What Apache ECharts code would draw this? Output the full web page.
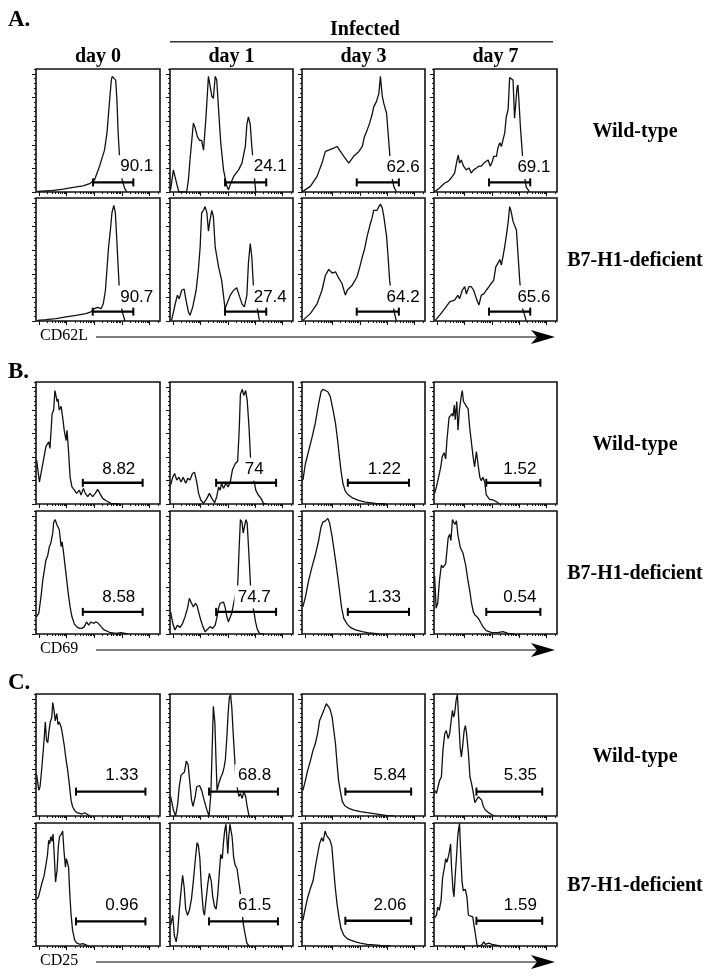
<!DOCTYPE html>
<html><head><meta charset="utf-8">
<script src="https://cdn.jsdelivr.net/npm/echarts@6/dist/echarts.min.js"></script>
<style>html,body{margin:0;padding:0;background:#fff}#c{width:714px;height:979px}</style>
</head><body><div id="c"></div>
<script>
// ---------- labels ----------
const dayLabels = ['day 0', 'day 1', 'day 3', 'day 7'];
const groupLabel = 'Infected';
const genotypeLabels = ['Wild-type', 'B7-H1-deficient'];
const sectionLetters = ['A.', 'B.', 'C.'];
const markerLabels = ['CD62L', 'CD69', 'CD25'];

// x in log-decade units (0..4), y in % of panel height
// ---------- A. CD62L ----------
const A_WT_d0 = [[0.04,0.5],[0.45,1],[0.88,2.4],[1.2,3.8],[1.52,5],[1.73,6.8],[1.89,10],[2.05,21],[2.21,34],[2.29,48],[2.34,64],[2.40,65],[2.43,91],[2.46,94],[2.51,93],[2.57,91],[2.61,75],[2.65,48],[2.70,26],[2.78,10],[2.86,3],[2.93,0]];
const A_WT_d1 = [[0.02,1.9],[0.11,18],[0.16,19.5],[0.24,4.6],[0.29,0],[0.54,0],[0.60,10],[0.65,26],[0.76,56],[0.82,52],[0.89,45],[0.96,42],[1.03,42],[1.09,34],[1.17,61],[1.25,94],[1.30,93],[1.36,78],[1.41,76],[1.47,94],[1.52,91],[1.58,67],[1.65,40],[1.74,18],[1.85,4.6],[1.90,1.9],[1.96,6],[2.07,12.7],[2.23,18],[2.34,23.5],[2.45,37],[2.50,55],[2.55,61],[2.61,55],[2.66,37],[2.72,21],[2.76,7],[2.79,0]];
const A_WT_d3 = [[0.03,0.5],[0.27,4.6],[0.49,12.7],[0.65,23.5],[0.76,33],[0.87,34],[1.03,35.7],[1.14,37],[1.25,33],[1.36,29],[1.52,23.5],[1.68,29],[1.85,33],[1.96,37],[2.03,45],[2.12,50.5],[2.20,56],[2.28,63],[2.33,69],[2.42,73.5],[2.50,80],[2.55,94],[2.61,78],[2.66,72],[2.75,64],[2.80,48],[2.85,32],[2.90,15],[2.99,4],[3.07,0]];
const A_WT_d7 = [[0.04,0.5],[0.18,3.2],[0.35,7.3],[0.46,8.6],[0.56,11.4],[0.67,15.4],[0.75,26],[0.79,30],[0.83,23.5],[0.89,26],[0.96,21],[1.05,18],[1.14,19.5],[1.21,15.4],[1.29,18],[1.38,19.5],[1.46,21],[1.54,21],[1.62,23.5],[1.68,22],[1.76,26],[1.83,21],[1.90,25],[1.94,29],[2.03,29],[2.08,36],[2.14,40],[2.19,37],[2.24,42],[2.30,48],[2.35,61],[2.41,67],[2.46,93],[2.51,94],[2.57,91],[2.62,60],[2.66,59],[2.70,85],[2.73,87],[2.76,75],[2.81,53],[2.87,32],[2.93,15],[3.00,4],[3.11,0]];
const A_KO_d0 = [[0.05,0.5],[0.32,1.1],[0.65,1.9],[0.97,3.3],[1.29,4.6],[1.61,6],[1.77,7.4],[1.88,10],[1.99,11],[2.10,10],[2.17,14],[2.24,25],[2.28,39],[2.34,60],[2.40,74],[2.45,88],[2.51,94],[2.56,88],[2.60,69],[2.65,44],[2.69,25],[2.73,14],[2.80,6],[2.87,0]];
const A_KO_d1 = [[0.05,0.5],[0.16,12.8],[0.24,21],[0.30,18],[0.38,25],[0.46,26],[0.52,17],[0.60,7.4],[0.65,4.6],[0.74,11.4],[0.85,25],[0.92,41],[0.98,60],[1.03,88],[1.09,90],[1.14,93],[1.20,88],[1.25,73],[1.30,82],[1.36,90],[1.41,85],[1.47,60],[1.58,44],[1.68,33],[1.79,10],[1.85,14],[1.96,21],[2.07,25],[2.17,27],[2.26,20],[2.34,14],[2.42,11.4],[2.50,21],[2.55,47],[2.61,63],[2.66,52],[2.72,25],[2.77,21],[2.85,8.7],[2.91,0]];
const A_KO_d3 = [[0.03,0.5],[0.27,6],[0.49,14],[0.65,25],[0.76,37],[0.87,42],[0.98,39],[1.09,40],[1.19,35],[1.30,30.5],[1.41,21],[1.47,25],[1.63,29],[1.79,36],[1.88,44],[1.96,52],[2.03,58],[2.12,69],[2.20,77],[2.28,84],[2.33,90],[2.44,90],[2.50,93],[2.55,95],[2.61,92],[2.66,85],[2.75,69],[2.80,52],[2.85,33],[2.93,17],[3.01,6],[3.07,0]];
const A_KO_d7 = [[0.04,0.5],[0.18,4.6],[0.35,10],[0.51,15.5],[0.67,17],[0.78,21],[0.83,18],[0.92,25],[1.00,28],[1.05,22],[1.14,28],[1.21,28],[1.29,25],[1.38,18],[1.46,13],[1.54,21],[1.62,22],[1.70,25],[1.79,28],[1.86,30.5],[1.94,33],[2.01,44],[2.08,47],[2.14,50],[2.19,45.5],[2.24,52],[2.30,60.5],[2.35,69],[2.41,80],[2.46,93],[2.51,89],[2.57,81],[2.62,82],[2.68,74],[2.73,55],[2.79,32],[2.87,11],[2.95,4.6],[3.00,0]];
const pctA = ['90.1', '24.1', '62.6', '69.1', '90.7', '27.4', '64.2', '65.6'];
const gatesA = [[1.84,3.14,7.8],[1.79,3.13,7.8],[1.78,3.15,7.8],[1.79,3.13,7.8],[1.83,3.14,7.6],[1.79,3.13,7.6],[1.78,3.15,7.6],[1.79,3.13,7.6]];
const pctPosA = [[3.25,20.5],[3.26,20.5],[3.29,20],[3.25,20],[3.25,19.6],[3.26,19.6],[3.29,19.6],[3.25,19.6]];

// ---------- B. CD69 ----------
const B_WT_d0 = [[0.02,36],[0.11,18],[0.22,33],[0.32,47],[0.41,51],[0.45,45.5],[0.52,74],[0.57,77],[0.61,93],[0.65,88],[0.68,84],[0.71,86],[0.75,77],[0.81,80],[0.86,71],[0.91,60.5],[0.97,52],[1.00,60.5],[1.04,47],[1.10,22],[1.16,14],[1.24,11.4],[1.31,8.7],[1.40,11.4],[1.45,7.4],[1.53,12.8],[1.59,8.7],[1.67,6],[1.74,8.7],[1.83,6],[1.91,8.7],[1.99,12],[2.06,8.7],[2.15,4.6],[2.26,2.7],[2.42,0.5],[2.69,0]];
const B_WT_d1 = [[0.02,15.5],[0.09,22],[0.15,25],[0.22,19.6],[0.29,22],[0.36,18],[0.43,22],[0.51,17],[0.58,21],[0.65,19.6],[0.73,25],[0.80,26],[0.87,18],[0.93,8.7],[1.00,3.3],[1.09,0.5],[1.20,4.6],[1.28,8.7],[1.36,4.6],[1.45,1.1],[1.52,6],[1.58,14],[1.63,11.4],[1.68,17],[1.74,12.8],[1.82,17],[1.89,14],[1.96,18],[2.03,28],[2.12,33],[2.20,35],[2.25,60.5],[2.29,90],[2.35,94],[2.40,89],[2.46,93],[2.51,85],[2.57,63],[2.62,37],[2.67,28],[2.74,18],[2.79,11.4],[2.87,7.4],[2.96,4.6],[3.04,0.5],[3.15,0]];
const B_WT_d3 = [[0.03,19.6],[0.11,33],[0.22,44],[0.33,55],[0.43,66],[0.54,82],[0.62,92],[0.68,94],[0.76,93],[0.84,92],[0.92,88],[1.01,77],[1.09,66],[1.16,52],[1.21,40],[1.27,27],[1.33,17],[1.40,11],[1.48,8],[1.64,5],[1.84,3],[2.06,1.5],[2.39,0.5],[2.72,0]];
const B_WT_d7 = [[0.02,8.7],[0.08,14],[0.15,22],[0.22,30.5],[0.27,39],[0.33,42],[0.38,37],[0.42,52],[0.49,71],[0.54,70],[0.59,74],[0.62,72],[0.66,81],[0.69,69],[0.74,84],[0.78,60.5],[0.83,78],[0.89,89],[0.92,93],[0.96,84],[1.03,81],[1.11,78],[1.16,63],[1.21,52],[1.27,39],[1.32,30.5],[1.38,43],[1.43,33],[1.49,22],[1.54,19],[1.59,22],[1.65,18],[1.70,7.4],[1.81,3.8],[1.92,3.3],[2.03,1.9],[2.14,0]];
const B_KO_d0 = [[0.02,14],[0.09,17],[0.16,30],[0.22,44],[0.27,52],[0.32,60],[0.38,64],[0.43,71],[0.48,74],[0.54,82],[0.57,91],[0.62,93],[0.67,89],[0.71,90],[0.75,85],[0.81,71],[0.84,75],[0.88,68],[0.94,55],[0.99,44],[1.04,33],[1.10,22],[1.16,14],[1.24,8],[1.31,6],[1.40,4.6],[1.48,4.6],[1.56,6],[1.63,9.8],[1.70,7.3],[1.77,9.8],[1.85,8.7],[1.94,9.8],[2.01,8.7],[2.10,6],[2.20,3.3],[2.37,1.4],[2.58,0.5],[2.74,1.1],[2.96,0]];
const B_KO_d1 = [[0.02,18],[0.09,8.7],[0.16,3.3],[0.24,7],[0.33,5.4],[0.41,8.7],[0.49,14],[0.57,21],[0.63,29],[0.70,25],[0.76,22],[0.83,25],[0.88,23],[0.93,18],[1.00,11.4],[1.07,6],[1.14,1.9],[1.22,3.8],[1.30,6],[1.39,4.6],[1.47,7.3],[1.52,12.7],[1.58,21],[1.63,25],[1.68,23.5],[1.74,26],[1.79,22],[1.85,14],[1.90,10],[1.96,11.4],[2.01,17],[2.07,25],[2.13,32],[2.20,38.5],[2.25,71],[2.29,93],[2.34,91],[2.38,82],[2.42,87],[2.47,93],[2.51,90],[2.57,63],[2.62,38.5],[2.67,25],[2.73,18],[2.78,10],[2.84,3.8],[2.91,0.5],[3.04,0]];
const B_KO_d3 = [[0.03,22],[0.11,30],[0.22,44],[0.33,55],[0.43,64],[0.54,76],[0.62,87],[0.68,91],[0.76,92],[0.84,94],[0.90,90],[0.98,79],[1.09,60],[1.16,47],[1.23,33],[1.29,21],[1.36,12.7],[1.47,8],[1.57,5.4],[1.74,3.3],[1.96,1.9],[2.2,0.8],[2.5,0]];
const B_KO_d7 = [[0.02,47],[0.07,21],[0.12,25],[0.18,44],[0.24,56],[0.29,54],[0.38,57],[0.46,78],[0.51,81],[0.55,76],[0.60,93],[0.64,94],[0.68,89],[0.73,92],[0.78,80],[0.86,70],[0.94,66],[1.03,56],[1.11,42.5],[1.17,34],[1.22,25],[1.28,18],[1.33,15.4],[1.40,14],[1.46,12],[1.53,8.7],[1.59,6],[1.70,2.7],[1.86,1.4],[2.08,1.1],[2.24,1.9],[2.41,0.5],[2.62,0]];
const pctB = ['8.82', '74', '1.22', '1.52', '8.58', '74.7', '1.33', '0.54'];
const gatesB = [[1.51,3.44,17.4],[1.50,3.45,17.4],[1.49,3.48,17.4],[1.70,3.46,17.4],[1.51,3.44,18],[1.50,3.45,18],[1.49,3.48,18],[1.70,3.46,18]];
const pctPosB = [[2.67,28.5],[2.74,28.5],[2.68,28.5],[2.79,28.5],[2.67,30],[2.74,30],[2.68,30],[2.79,30]];

// ---------- C. CD25 ----------
const C_WT_d0 = [[0.02,34],[0.09,21],[0.13,24],[0.19,40],[0.26,62],[0.30,77],[0.34,62],[0.38,60],[0.42,70],[0.46,77],[0.51,81],[0.54,93],[0.58,87],[0.62,78],[0.67,84],[0.71,75],[0.75,77],[0.81,73],[0.86,66],[0.91,58],[0.97,46],[1.02,38],[1.08,25],[1.13,13],[1.18,7.6],[1.25,4.4],[1.32,2.7],[1.41,2.2],[1.49,1.6],[1.57,2.7],[1.65,1.4],[1.74,0]];
const C_WT_d1 = [[0.02,16],[0.11,5],[0.18,0],[0.25,10],[0.30,24],[0.36,33.5],[0.41,32],[0.47,36],[0.53,45],[0.59,42],[0.64,29],[0.70,13],[0.75,8],[0.82,16],[0.87,24],[0.96,25],[1.03,21],[1.11,13],[1.20,5],[1.27,0],[1.33,18.5],[1.37,54],[1.41,90],[1.46,76],[1.50,43],[1.53,21],[1.59,27],[1.64,31],[1.71,35],[1.76,40],[1.80,46],[1.85,65],[1.89,84],[1.93,97],[1.97,99.5],[2.01,89],[2.05,70],[2.10,48.5],[2.14,32],[2.18,24],[2.24,16],[2.29,18.5],[2.35,14.4],[2.40,20],[2.46,16],[2.51,7.6],[2.57,0]];
const C_WT_d3 = [[0.03,21],[0.11,29],[0.18,37],[0.27,45],[0.36,54],[0.43,59],[0.51,68],[0.57,78],[0.65,83],[0.73,88],[0.79,92],[0.83,93.5],[0.88,89],[0.92,87],[0.98,81],[1.03,80],[1.09,59],[1.14,43],[1.19,29],[1.25,20],[1.31,12],[1.39,8.4],[1.52,6.3],[1.68,4.9],[1.90,3.5],[2.12,2.7],[2.45,1.6],[2.77,0.3],[2.99,0]];
const C_WT_d7 = [[0.02,21],[0.08,18.5],[0.13,24],[0.18,29],[0.24,32],[0.29,54],[0.35,67.6],[0.40,70],[0.46,63.5],[0.51,67.6],[0.56,78.5],[0.60,86.6],[0.64,81],[0.67,84],[0.72,95],[0.76,99.7],[0.80,81],[0.85,56.7],[0.89,48.5],[0.93,56.7],[0.98,70],[1.02,74],[1.06,67.6],[1.12,51],[1.17,32],[1.22,26.7],[1.28,18.5],[1.33,11],[1.39,11.7],[1.44,15.8],[1.50,17],[1.55,13],[1.60,8.2],[1.67,4.9],[1.76,3],[1.86,1.4],[1.97,0]];
const C_KO_d0 = [[0.02,38],[0.08,40],[0.13,45],[0.19,51],[0.26,57],[0.32,66],[0.37,74],[0.41,86],[0.44,83],[0.48,89],[0.52,85],[0.55,91],[0.58,78],[0.61,63],[0.63,52],[0.68,61.5],[0.72,80.5],[0.76,89],[0.82,91],[0.86,93.5],[0.90,78],[0.95,64],[0.98,71],[1.01,72],[1.05,64],[1.09,42.5],[1.13,26],[1.18,12.7],[1.25,4.6],[1.32,2.4],[1.41,1.4],[1.51,1.9],[1.59,1.1],[1.70,0]];
const C_KO_d1 = [[0.02,17],[0.09,25],[0.14,8.7],[0.20,3.3],[0.25,11.4],[0.30,29],[0.36,45],[0.41,57.5],[0.46,48],[0.51,30],[0.57,25],[0.63,29],[0.70,38.5],[0.76,53],[0.83,72],[0.88,84],[0.92,82],[0.97,71.5],[1.02,48],[1.08,29],[1.12,25],[1.17,37],[1.23,50.7],[1.28,59],[1.34,53],[1.39,40],[1.45,32],[1.50,30],[1.55,41],[1.61,61.5],[1.65,74.5],[1.70,71],[1.74,84.5],[1.78,94],[1.82,99],[1.85,87.5],[1.88,75],[1.91,88.6],[1.95,99],[1.98,98],[2.02,88.6],[2.07,72],[2.12,65.6],[2.18,63],[2.24,52],[2.28,45],[2.34,29],[2.39,16.8],[2.45,8.7],[2.50,2.4],[2.57,0]];
const C_KO_d3 = [[0.03,21],[0.11,31],[0.18,39],[0.27,46.6],[0.36,53],[0.43,64],[0.51,75],[0.57,83],[0.64,88],[0.69,85],[0.75,93.5],[0.80,90],[0.86,89],[0.91,86],[0.97,81],[1.02,65.6],[1.08,48],[1.14,34],[1.21,22],[1.27,14],[1.36,8.7],[1.47,6],[1.60,4.6],[1.75,3.3],[1.90,2.4],[2.12,1.4],[2.55,0.5],[2.88,0]];
const C_KO_d7 = [[0.02,23],[0.08,25],[0.12,31.7],[0.17,29],[0.23,37],[0.28,55.6],[0.34,64],[0.38,71],[0.42,68],[0.47,73],[0.51,78],[0.54,83],[0.57,64],[0.62,45],[0.65,40],[0.68,53],[0.73,72],[0.77,88.6],[0.80,95],[0.83,99.5],[0.87,75],[0.91,53],[0.95,45],[1.02,46],[1.07,40],[1.12,25],[1.18,23.6],[1.26,23.6],[1.32,22],[1.36,7.3],[1.40,0.5],[1.49,0],[1.56,1.1],[1.62,3.3],[1.67,1.4],[1.72,0.3],[1.78,2.4],[1.83,3.3],[1.89,1.4],[1.94,0],[2.14,0]];
const pctC = ['1.33', '68.8', '5.84', '5.35', '0.96', '61.5', '2.06', '1.59'];
const gatesC = [[1.29,3.53,20],[1.27,3.51,20],[1.41,3.55,20],[1.38,3.52,20],[1.29,3.53,20],[1.27,3.51,20],[1.41,3.55,20.5],[1.38,3.52,20.5]];
const pctPosC = [[2.77,33],[2.75,33],[2.86,33],[2.81,33],[2.77,33],[2.75,33],[2.86,33],[2.81,33]];

// axis ticks (log decades on x, linear counts on y)
const xDecadeTicks = [0.1, 0.99, 1.88, 2.77, 3.66];
const xDecadeWidth = 0.89;
const xMinorMultipliers = [2, 3, 4, 5, 6, 7, 8, 9];
const yMajorTicks = [0, 19.2, 38.4, 57.6, 76.8, 96];
const yMinorStep = 3.84;

const curves = [
  [A_WT_d0, A_WT_d1, A_WT_d3, A_WT_d7, A_KO_d0, A_KO_d1, A_KO_d3, A_KO_d7],
  [B_WT_d0, B_WT_d1, B_WT_d3, B_WT_d7, B_KO_d0, B_KO_d1, B_KO_d3, B_KO_d7],
  [C_WT_d0, C_WT_d1, C_WT_d3, C_WT_d7, C_KO_d0, C_KO_d1, C_KO_d3, C_KO_d7]
];
const pcts = [pctA, pctB, pctC];
const gates = [gatesA, gatesB, gatesC];
const pctPos = [pctPosA, pctPosB, pctPosC];

// ---------- layout ----------
const colLeft = [36, 170, 302, 434];
const colWidth = [124, 123, 123, 123];
const rowTop = [[69, 198], [382, 511], [694, 823]];
const rowHeight = [[123, 123], [122, 123], [122, 123]];
const arrowY = [337, 650, 962];
const sectionY = [20, 372, 683];

const xMinorTicks = [];
xDecadeTicks.forEach(function (d) {
  xMinorMultipliers.forEach(function (m) {
    const v = d + Math.log10(m) * xDecadeWidth;
    if (v < 3.99) xMinorTicks.push(+v.toFixed(4));
  });
});
const yMinorTicks = [];
for (let v = 0; v <= 100; v += yMinorStep) yMinorTicks.push(+v.toFixed(3));

const INK = '#000';
const SERIF = '"Liberation Serif","Times New Roman",serif';
const SANS = '"Liberation Sans",Arial,sans-serif';

const grid = [], xAxis = [], yAxis = [], series = [];
let k = 0;
for (let s = 0; s < 3; s++) {
  for (let r = 0; r < 2; r++) {
    for (let c = 0; c < 4; c++) {
      const idx = r * 4 + c;
      grid.push({
        left: colLeft[c], top: rowTop[s][r], width: colWidth[c], height: rowHeight[s][r],
        show: true, borderColor: '#111', borderWidth: 1.6, backgroundColor: 'transparent',
        containLabel: false, outerBoundsMode: 'none'
      });
      const baseX = { gridIndex: k, type: 'value', min: 0, max: 4, position: 'bottom',
        axisLine: { show: false }, splitLine: { show: false }, axisLabel: { show: false } };
      const baseY = { gridIndex: k, type: 'value', min: 0, max: 100, position: 'left',
        axisLine: { show: false }, splitLine: { show: false }, axisLabel: { show: false } };
      xAxis.push(Object.assign({}, baseX, { axisTick: { show: true, length: 4, lineStyle: { color: '#111', width: 1 }, customValues: xDecadeTicks } }));
      xAxis.push(Object.assign({}, baseX, { axisTick: { show: true, length: 2, lineStyle: { color: '#111', width: 1 }, customValues: xMinorTicks } }));
      yAxis.push(Object.assign({}, baseY, { axisTick: { show: true, length: 4, lineStyle: { color: '#111', width: 1 }, customValues: yMajorTicks } }));
      yAxis.push(Object.assign({}, baseY, { axisTick: { show: true, length: 2, lineStyle: { color: '#111', width: 1 }, customValues: yMinorTicks } }));
      const ax = 2 * k;
      const txt = pcts[s][idx];
      series.push({
        type: 'line', xAxisIndex: ax, yAxisIndex: ax, z: 2, silent: true,
        data: curves[s][idx], showSymbol: false, symbol: 'none', smooth: false,
        lineStyle: { color: '#111', width: 1.3 }, clip: true
      });
      // percentage label sits on an opaque white plate that hides the trace behind it
      series.push({
        type: 'scatter', xAxisIndex: ax, yAxisIndex: ax, z: 3, silent: true,
        data: [pctPos[s][idx]], symbol: 'rect', symbolSize: [txt.length * 9.4 + 2, 23],
        itemStyle: { color: '#fff', opacity: 1 },
        label: { show: true, position: 'inside', formatter: txt,
          fontFamily: SANS, fontSize: 17, color: '#000', opacity: 1 }
      });
      const g = gates[s][idx];
      series.push({
        type: 'line', xAxisIndex: ax, yAxisIndex: ax, z: 4, silent: true,
        data: [[g[0], g[2]], [g[1], g[2]]], showSymbol: true, symbol: 'rect', symbolSize: [2, 8],
        itemStyle: { color: INK }, lineStyle: { color: INK, width: 2.4 }
      });
      k++;
    }
  }
}

// ---------- annotations ----------
const graphic = [];
const boldText = (x, y, text, size, align) => ({
  type: 'text', x: x, y: y, silent: true,
  style: { text: text, fill: INK, font: 'bold ' + size + 'px ' + SERIF, textAlign: align || 'center', textVerticalAlign: 'middle' }
});
sectionLetters.forEach((t, s) => graphic.push(boldText(8, sectionY[s], t, 23, 'left')));
graphic.push(boldText(365, 30, groupLabel, 20));
graphic.push({ type: 'line', silent: true, shape: { x1: 170, y1: 41.7, x2: 553, y2: 41.7 }, style: { stroke: '#333', lineWidth: 1.6 } });
dayLabels.forEach((t, c) => graphic.push(boldText(colLeft[c] + colWidth[c] / 2, 57, t, 20)));
for (let s = 0; s < 3; s++) {
  for (let r = 0; r < 2; r++) {
    graphic.push(boldText(635, rowTop[s][r] + rowHeight[s][r] / 2 + 1.5, genotypeLabels[r], 20));
  }
  const y = arrowY[s];
  graphic.push({ type: 'text', x: 40, y: y - 1, silent: true,
    style: { text: markerLabels[s], fill: INK, font: '16px ' + SERIF, textAlign: 'left', textVerticalAlign: 'middle' } });
  graphic.push({ type: 'line', silent: true, shape: { x1: 96, y1: y, x2: 540, y2: y }, style: { stroke: INK, lineWidth: 1.1 } });
  graphic.push({ type: 'polygon', silent: true, shape: { points: [[555, y], [531, y - 7], [537, y], [531, y + 7]] }, style: { fill: INK } });
}

const chart = echarts.init(document.getElementById('c'), null, { renderer: 'canvas' });
chart.setOption({
  animation: false,
  backgroundColor: '#fff',
  grid: grid, xAxis: xAxis, yAxis: yAxis, series: series, graphic: graphic
});
</script>
</body></html>
